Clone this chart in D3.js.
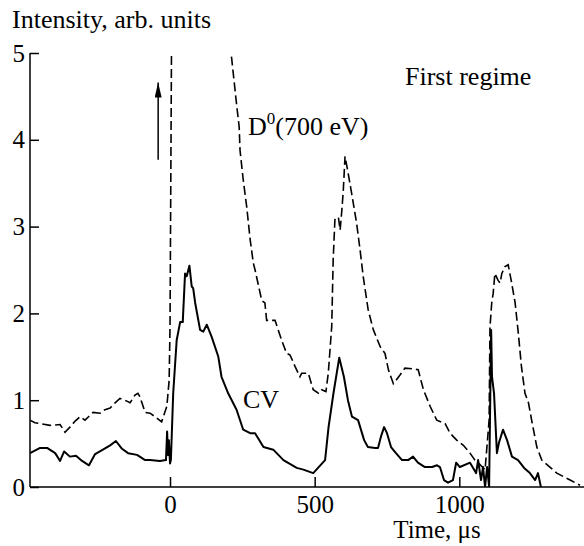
<!DOCTYPE html>
<html>
<head>
<meta charset="utf-8">
<script src="https://cdn.jsdelivr.net/npm/d3@7"></script>
<style>
  body { margin: 0; background: #fff; }
  text { font-family: "Liberation Serif", "DejaVu Serif", serif; fill: #000; }
</style>
</head>
<body>
<div id="chart"></div>
<script>
// time axis in microseconds, intensity in arb. units
var cvTime = [-484, -449, -425, -397, -380, -366, -346, -325, -304, -280, -259, -232, -207, -187, -166, -145, -114, -86, -69, -35, -14, -10, -7, -4, 0, 3, 11, 23, 35, 44, 52, 58, 67, 75, 80, 87, 104, 115, 127, 144, 167, 178, 201, 230, 253, 277, 294, 323, 357, 392, 438, 461, 495, 536, 548, 565, 585, 601, 615, 629, 650, 671, 684, 709, 719, 729, 740, 750, 764, 781, 802, 823, 840, 857, 881, 906, 923, 933, 947, 961, 978, 989, 1002, 1037, 1058, 1065, 1075, 1082, 1089, 1096, 1103, 1110, 1113, 1120, 1130, 1137, 1151, 1165, 1182, 1203, 1224, 1244, 1262, 1272, 1282];
var cvValue = [0.39, 0.45, 0.45, 0.39, 0.30, 0.41, 0.35, 0.36, 0.30, 0.25, 0.38, 0.43, 0.48, 0.53, 0.44, 0.39, 0.37, 0.31, 0.31, 0.30, 0.31, 0.64, 0.37, 0.54, 0.27, 0.31, 1.08, 1.69, 1.90, 1.90, 2.46, 2.43, 2.55, 2.31, 2.29, 2.12, 1.81, 1.79, 1.87, 1.73, 1.50, 1.27, 1.08, 0.89, 0.66, 0.62, 0.62, 0.46, 0.43, 0.31, 0.22, 0.20, 0.16, 0.31, 0.69, 1.08, 1.49, 1.27, 1.00, 0.81, 0.77, 0.54, 0.46, 0.45, 0.45, 0.58, 0.69, 0.62, 0.46, 0.39, 0.31, 0.31, 0.35, 0.28, 0.23, 0.23, 0.25, 0.23, 0.08, 0.05, 0.08, 0.28, 0.23, 0.28, 0.16, 0.31, 0.08, 0.23, 0.00, 0.23, 0.00, 1.81, 1.27, 1.08, 0.39, 0.51, 0.66, 0.54, 0.35, 0.31, 0.22, 0.16, 0.08, 0.16, 0.00];

var d0Time = [-484, -467, -449, -415, -380, -363, -346, -328, -311, -294, -266, -242, -225, -207, -190, -173, -156, -138, -121, -111, -104, -86, -69, -52, -29, -11, -3, 0, 6, 20, 100, 200, 213, 221, 231, 239, 242, 253, 265, 277, 288, 294, 317, 328, 334, 363, 386, 403, 415, 432, 449, 455, 478, 495, 513, 524, 539, 547, 559, 564, 570, 582, 588, 594, 599, 605, 616, 628, 645, 657, 668, 685, 703, 726, 743, 755, 772, 795, 812, 841, 858, 876, 899, 922, 951, 968, 991, 1014, 1037, 1054, 1065, 1089, 1103, 1106, 1112, 1117, 1123, 1134, 1141, 1147, 1158, 1169, 1181, 1193, 1204, 1215, 1227, 1239, 1250, 1268, 1285, 1313, 1337, 1360, 1383, 1417];
var d0Value = [0.77, 0.74, 0.73, 0.71, 0.72, 0.63, 0.69, 0.76, 0.81, 0.77, 0.86, 0.85, 0.89, 0.91, 0.97, 1.02, 1.00, 0.97, 1.06, 1.08, 1.04, 0.86, 0.85, 0.81, 0.75, 0.93, 1.23, 1.85, 5.6, 6.5, 7.5, 5.3, 4.94, 4.69, 4.38, 4.15, 3.88, 3.54, 3.23, 2.85, 2.58, 2.50, 2.15, 2.12, 1.92, 1.92, 1.69, 1.54, 1.52, 1.39, 1.27, 1.31, 1.31, 1.12, 1.08, 1.12, 1.10, 1.31, 1.85, 2.62, 3.08, 3.11, 2.96, 3.19, 3.42, 3.81, 3.61, 3.38, 3.04, 2.73, 2.42, 2.04, 1.81, 1.62, 1.54, 1.35, 1.19, 1.29, 1.37, 1.36, 1.35, 1.12, 0.93, 0.77, 0.73, 0.62, 0.54, 0.48, 0.39, 0.31, 0.28, 0.20, 0.77, 1.84, 2.12, 2.23, 2.46, 2.38, 2.35, 2.46, 2.54, 2.56, 2.35, 2.12, 1.77, 1.38, 1.08, 0.97, 0.77, 0.46, 0.31, 0.23, 0.16, 0.12, 0.08, 0.02];

var xTicks = [0, 500, 1000];
var yTicks = [0, 1, 2, 3, 4, 5];

var width = 584, height = 546;
var plotLeft = 30, plotRight = 584, plotTop = 53, plotBottom = 487;

var svg = d3.select("#chart").append("svg")
    .attr("width", width)
    .attr("height", height);

var x = d3.scaleLinear().domain([-484, 1431]).range([plotLeft, plotRight]);
var y = d3.scaleLinear().domain([0, 5]).range([plotBottom, plotTop]);

svg.append("clipPath").attr("id", "plot")
  .append("rect")
    .attr("x", plotLeft).attr("y", plotTop)
    .attr("width", plotRight - plotLeft).attr("height", plotBottom - plotTop);

// axes: ticks point inward
var xAxis = d3.axisBottom(x).tickValues(xTicks).tickFormat(d3.format("d")).tickSize(-10).tickPadding(8);
var yAxis = d3.axisLeft(y).tickValues(yTicks).tickFormat(d3.format("d")).tickSize(-9).tickPadding(5);

var gx = svg.append("g").attr("transform", `translate(0,${plotBottom})`).call(xAxis);
var gy = svg.append("g").attr("transform", `translate(${plotLeft},0)`).call(yAxis);

[gx, gy].forEach(function(g) {
    g.select(".domain").attr("stroke", "#000").attr("stroke-width", 1.5);
    g.selectAll(".tick line").attr("stroke", "#000").attr("stroke-width", 1.5);
    g.selectAll(".tick text").style("font-size", "25px").attr("fill", "#000")
        .style("font-family", "'Liberation Serif', serif");
});
gx.select(".domain").attr("d", `M${plotLeft},0H${plotRight}`);
gy.select(".domain").attr("d", `M0,${plotTop}V${plotBottom}`);

var line = d3.line().x(d => x(d[0])).y(d => y(d[1]));

var plot = svg.append("g").attr("clip-path", "url(#plot)");

plot.append("path")
    .datum(d3.zip(d0Time, d0Value))
    .attr("d", line)
    .attr("fill", "none")
    .attr("stroke", "#000")
    .attr("stroke-width", 1.6)
    .attr("stroke-dasharray", "9,4");

plot.append("path")
    .datum(d3.zip(cvTime, cvValue))
    .attr("d", line)
    .attr("fill", "none")
    .attr("stroke", "#000")
    .attr("stroke-width", 2)
    .attr("stroke-linejoin", "round");

// arrow
svg.append("defs").append("marker")
    .attr("id", "head")
    .attr("viewBox", "0 0 10 10")
    .attr("refX", 10).attr("refY", 5)
    .attr("markerWidth", 15).attr("markerHeight", 7)
    .attr("markerUnits", "userSpaceOnUse")
    .attr("preserveAspectRatio", "none")
    .attr("orient", "auto")
  .append("path").attr("d", "M0,0L10,5L0,10Z").attr("fill", "#000");

svg.append("line")
    .attr("x1", x(-41)).attr("y1", y(3.77))
    .attr("x2", x(-41)).attr("y2", y(4.66))
    .attr("stroke", "#000").attr("stroke-width", 1.5)
    .attr("marker-end", "url(#head)");

// labels
svg.append("text").attr("x", 12).attr("y", 28)
    .style("font-size", "26px").text("Intensity, arb. units");

svg.append("text").attr("x", 437).attr("y", 538)
    .attr("text-anchor", "middle")
    .style("font-size", "25px").text("Time, \u03bcs");

svg.append("text").attr("x", 405).attr("y", 85)
    .style("font-size", "26px").text("First regime");

var d0 = svg.append("text").attr("x", 248).attr("y", 135).style("font-size", "26px");
d0.append("tspan").text("D");
d0.append("tspan").attr("dy", -11).style("font-size", "17px").text("0");
d0.append("tspan").attr("dy", 11).text("(700 eV)");

svg.append("text").attr("x", 243).attr("y", 408)
    .style("font-size", "26px").text("CV");
</script>
</body>
</html>
